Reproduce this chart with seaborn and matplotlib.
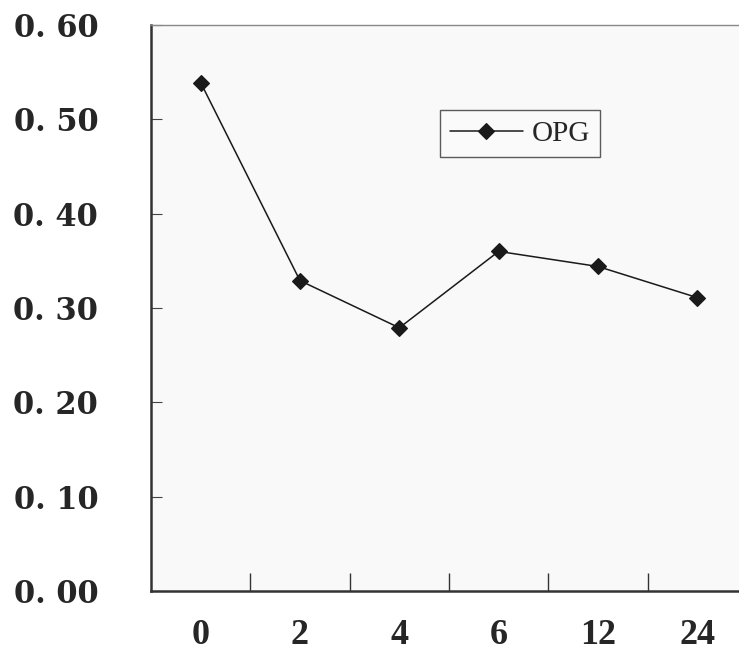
import pandas as pd
import seaborn as sns
import matplotlib
matplotlib.use('Agg')
import matplotlib.pyplot as plt

# 데이터
hours = ['0', '2', '4', '6', '12', '24']
opg = [0.539, 0.329, 0.279, 0.360, 0.344, 0.311]
y_ticks = [0.0, 0.1, 0.2, 0.3, 0.4, 0.5, 0.6]
y_tick_labels = ['0. 00', '0. 10', '0. 20', '0. 30', '0. 40', '0. 50', '0. 60']

df = pd.DataFrame({'hour': hours, 'value': opg})

sns.set_style('white')
plt.rcParams['font.family'] = ['Liberation Serif', 'DejaVu Serif']

fig = plt.figure(figsize=(7.39, 6.56), dpi=100)
ax = fig.add_axes([0.2043, 0.0991, 0.8065, 0.8628])
ax.set_facecolor('#f9f9f9')

sns.pointplot(data=df, x='hour', y='value', ax=ax, color='#1a1a1a',
              marker='D', markersize=8, linestyle='-', linewidth=1.1,
              errorbar=None, label='OPG')

ax.set_xlim(-0.5, 5.5)
ax.set_ylim(0, 0.6)
ax.set_xlabel('')
ax.set_ylabel('')

# y축 눈금
ax.set_yticks(y_ticks)
ax.set_yticklabels(y_tick_labels, fontfamily='DejaVu Serif', fontweight='bold', fontsize=22)
ax.tick_params(axis='y', direction='in', length=8, width=0.8, color='#444444', pad=38, left=True)

# x축 눈금: 라벨은 가운데, 눈금선은 경계에
ax.set_xticks(range(len(hours)))
ax.set_xticklabels(hours, fontweight='bold', fontsize=26)
ax.tick_params(axis='x', which='major', length=0, pad=20)
ax.set_xticks([i + 0.5 for i in range(len(hours) - 1)], minor=True)
ax.tick_params(axis='x', which='minor', direction='in', length=13, width=1.0,
               color='#333333', bottom=True)

for side in ['left', 'bottom']:
    ax.spines[side].set_color('#333333')
    ax.spines[side].set_linewidth(1.8)
ax.spines['top'].set_color('#888888')
ax.spines['top'].set_linewidth(1.0)
ax.spines['right'].set_visible(False)

leg = ax.legend(loc='upper left', bbox_to_anchor=(0.595, 0.832), bbox_transform=fig.transFigure,
                borderaxespad=0, frameon=True, fancybox=False, fontsize=21,
                handlelength=2.5, handletextpad=0.3, borderpad=0.35)
leg.get_frame().set_edgecolor('#333333')
leg.get_frame().set_linewidth(1.0)
leg.get_frame().set_facecolor('#fbfbfb')

fig.savefig('out.png', dpi=100)
